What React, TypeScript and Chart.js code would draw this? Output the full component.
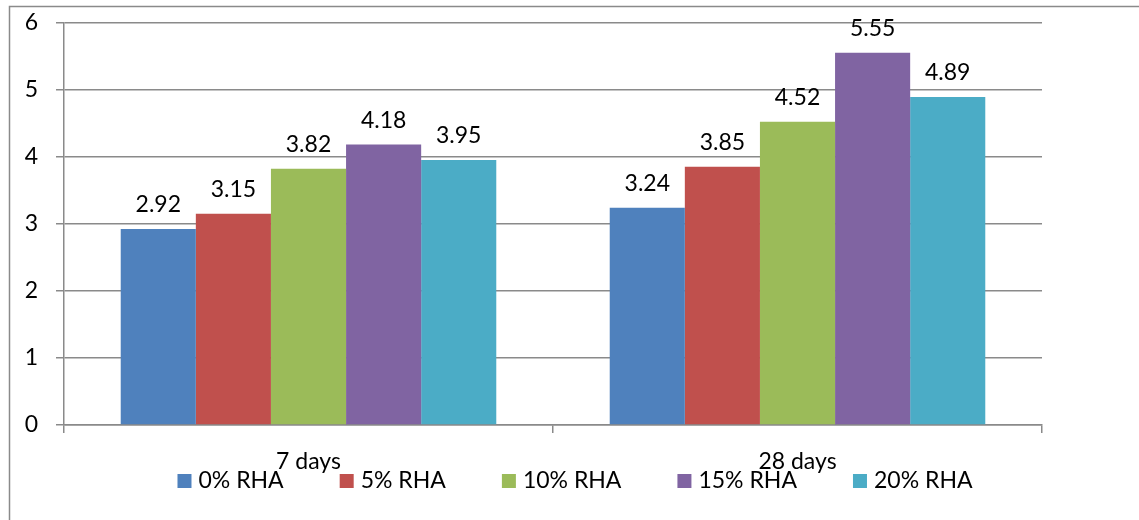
import React, { useEffect, useRef } from "react";
import { Chart, registerables } from "chart.js";

Chart.register(...registerables);

const categories = ["7 days", "28 days"];
const seriesNames = ["0% RHA", "5% RHA", "10% RHA", "15% RHA", "20% RHA"];
const rha0 = [2.92, 3.24];
const rha5 = [3.15, 3.85];
const rha10 = [3.82, 4.52];
const rha15 = [4.18, 5.55];
const rha20 = [3.95, 4.89];
const seriesColors = ["#4F81BD", "#C0504D", "#9BBB59", "#8064A2", "#4BACC6"];
const yMin = 0;
const yMax = 6;
const yStep = 1;

const FONT = "Lato, 'Open Sans', sans-serif";
const FONT_SIZE = 23;
const GRID = "#8a8a8a";

const framePlugin = {
  id: "frame",
  beforeDraw(chart: any) {
    const ctx = chart.ctx;
    ctx.save();
    ctx.strokeStyle = "#8a8a8a";
    ctx.lineWidth = 1.5;
    ctx.strokeRect(9.5, 6.5, 1300, 700);
    ctx.restore();
  },
};

const valueLabelPlugin = {
  id: "valueLabels",
  afterDatasetsDraw(chart: any) {
    const ctx = chart.ctx;
    ctx.save();
    ctx.font = `${FONT_SIZE}px ${FONT}`;
    ctx.fillStyle = "#000";
    ctx.textAlign = "center";
    ctx.textBaseline = "alphabetic";
    chart.data.datasets.forEach((ds: any, i: number) => {
      const meta = chart.getDatasetMeta(i);
      meta.data.forEach((el: any, j: number) => {
        ctx.fillText(Number(ds.data[j]).toFixed(2), el.x, el.y - 17);
      });
    });
    ctx.restore();
  },
};

const legendPlugin = {
  id: "customLegend",
  afterDraw(chart: any) {
    const ctx = chart.ctx;
    ctx.save();
    ctx.font = `${FONT_SIZE}px ${FONT}`;
    ctx.textBaseline = "alphabetic";
    ctx.textAlign = "left";
    const box = 14;
    const gapBox = 7;
    const gapItem = 56;
    const items = chart.data.datasets.map((ds: any) => ({
      label: ds.label,
      color: ds.backgroundColor,
      w: box + gapBox + ctx.measureText(ds.label).width,
    }));
    const total =
      items.reduce((s: number, it: any) => s + it.w, 0) + gapItem * (items.length - 1);
    let x = 575 - total / 2;
    const baseline = 488;
    items.forEach((it: any) => {
      ctx.fillStyle = it.color;
      ctx.fillRect(x, baseline - box, box, box);
      ctx.fillStyle = "#000";
      ctx.fillText(it.label, x + box + gapBox, baseline);
      x += it.w + gapItem;
    });
    ctx.restore();
  },
};

export default function App() {
  const ref = useRef<HTMLCanvasElement | null>(null);

  useEffect(() => {
    if (!ref.current) return;
    const seriesValues = [rha0, rha5, rha10, rha15, rha20];
    const chart = new Chart(ref.current, {
      type: "bar",
      data: {
        labels: categories,
        datasets: seriesNames.map((name, i) => ({
          label: name,
          data: seriesValues[i],
          backgroundColor: seriesColors[i],
          borderWidth: 0,
          categoryPercentage: 0.768,
          barPercentage: 1,
        })),
      },
      options: {
        animation: false,
        responsive: true,
        maintainAspectRatio: false,
        layout: { padding: { left: 0, right: 97, top: 22.5, bottom: 0 } },
        plugins: {
          legend: { display: false },
          tooltip: { enabled: false },
        },
        scales: {
          x: {
            afterFit(scale: any) {
              scale.height = 95;
              scale.paddingLeft = 0;
              scale.paddingRight = 0;
            },
            grid: {
              display: true,
              drawOnChartArea: false,
              drawTicks: true,
              tickLength: 8,
              offset: true,
              color: GRID,
              lineWidth: 1.5,
            },
            border: { display: true, color: GRID, width: 1.5 },
            ticks: {
              color: "#000",
              font: { family: FONT, size: FONT_SIZE },
              padding: 15,
            },
          },
          y: {
            min: yMin,
            max: yMax,
            afterFit(scale: any) {
              scale.width = 64;
              scale.paddingTop = 0;
              scale.paddingBottom = 0;
            },
            ticks: {
              stepSize: yStep,
              color: "#000",
              font: { family: FONT, size: FONT_SIZE },
              padding: 18,
            },
            grid: {
              color: GRID,
              lineWidth: 1.5,
              drawTicks: true,
              tickLength: 8,
            },
            border: { display: true, color: GRID, width: 1.5 },
          },
        },
      },
      plugins: [framePlugin, valueLabelPlugin, legendPlugin],
    });
    return () => chart.destroy();
  }, []);

  return (
    <div
      style={{
        position: "absolute",
        left: 0,
        top: 0,
        width: 1139,
        height: 520,
        background: "#fff",
      }}
    >
      <canvas ref={ref} />
    </div>
  );
}
